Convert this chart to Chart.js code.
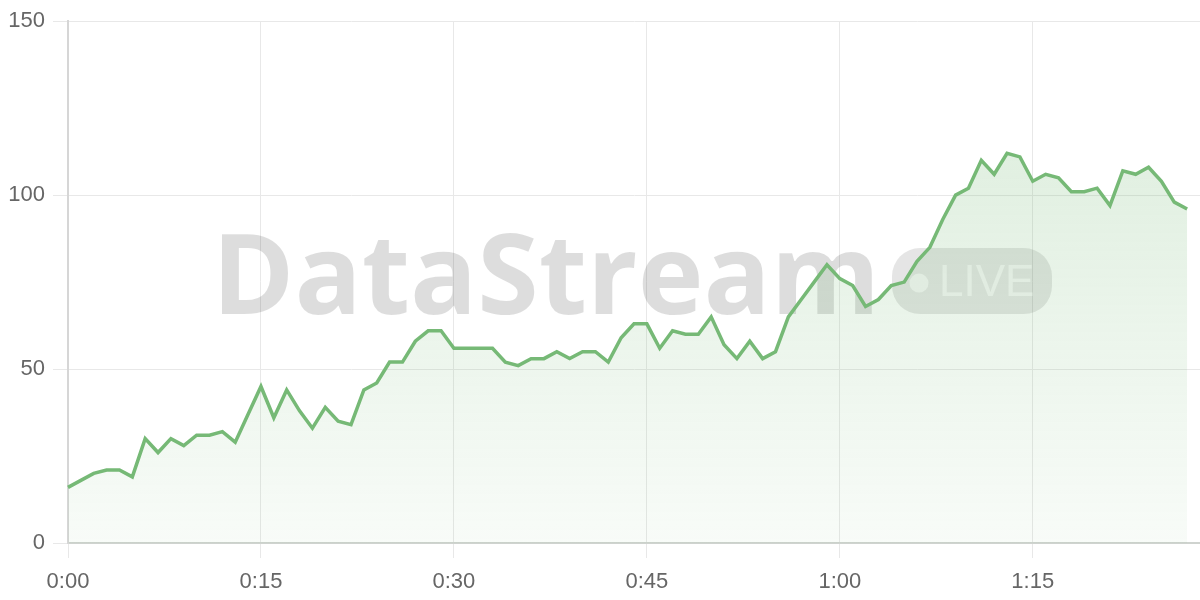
<!DOCTYPE html>
<html>
<head>
<meta charset="utf-8">
<script src="https://cdn.jsdelivr.net/npm/chart.js@4/dist/chart.umd.min.js"></script>
<style>
  html, body { margin: 0; padding: 0; background: #fff; }
  #wrap { width: 1200px; height: 600px; }
</style>
</head>
<body>
<div id="wrap"><canvas id="streamChart"></canvas></div>
<script>
// minutes since start (one sample per minute, one spare slot at the end)
const minutes = Array.from({ length: 89 }, (_, i) => i);
const viewers = [
    16, 18, 20, 21, 21, 19, 30, 26, 30, 28,
    31, 31, 32, 29, 37, 45, 36, 44, 38, 33,
    39, 35, 34, 44, 46, 52, 52, 58, 61, 61,
    56, 56, 56, 56, 52, 51, 53, 53, 55, 53,
    55, 55, 52, 59, 63, 63, 56, 61, 60, 60,
    65, 57, 53, 58, 53, 55, 65, 70, 75, 80,
    76, 74, 68, 70, 74, 75, 81, 85, 93, 100,
    102, 110, 106, 112, 111, 104, 106, 105, 101, 101,
    102, 97, 107, 106, 108, 104, 98, 96
];
const yTicks = [0, 50, 100, 150];

function fmt(m) {
    const h = Math.floor(m / 60);
    const mm = m % 60;
    return h + ':' + (mm < 10 ? '0' : '') + mm;
}

const labels = minutes.map(fmt);

// big "DataStream • LIVE" mark behind the line
const watermark = {
    id: 'watermark',
    beforeDatasetsDraw(chart) {
        const { ctx, chartArea } = chart;
        const cx = (chartArea.left + chartArea.right) / 2;
        const cy = (chartArea.top + chartArea.bottom) / 2;
        ctx.save();
        ctx.textBaseline = 'alphabetic';
        ctx.textAlign = 'left';

        // fit the word to its width
        ctx.font = 'bold 100px "Open Sans", sans-serif';
        const size = 100 * 668 / ctx.measureText('DataStream').width;
        ctx.font = 'bold ' + size.toFixed(1) + 'px "Open Sans", sans-serif';
        ctx.fillStyle = 'rgba(0, 0, 0, 0.135)';
        ctx.fillText('DataStream', cx - 422, cy + 32);

        // pill
        const px = cx + 258, py = cy - 34, pw = 160, ph = 66;
        ctx.fillStyle = 'rgba(0, 0, 0, 0.1)';
        ctx.beginPath();
        ctx.roundRect(px, py, pw, ph, 28);
        ctx.fill();

        ctx.fillStyle = 'rgba(255, 255, 255, 0.65)';
        ctx.beginPath();
        ctx.arc(px + 27, cy + 1, 9.5, 0, Math.PI * 2);
        ctx.fill();
        ctx.font = '44px "Liberation Sans", Arial, sans-serif';
        ctx.fillText('LIVE', px + 47, cy + 14);
        ctx.restore();
    }
};

const ctx = document.getElementById('streamChart').getContext('2d');

new Chart(ctx, {
    type: 'line',
    data: {
        labels: labels,
        datasets: [{
            data: viewers,
            borderColor: '#76b976',
            borderWidth: 3.5,
            pointRadius: 0,
            tension: 0,
            fill: true,
            backgroundColor: function(context) {
                const area = context.chart.chartArea;
                if (!area) return 'rgba(118, 185, 118, 0.15)';
                const g = context.chart.ctx.createLinearGradient(0, area.top, 0, area.bottom);
                g.addColorStop(0, 'rgba(118, 185, 118, 0.28)');
                g.addColorStop(1, 'rgba(118, 185, 118, 0.05)');
                return g;
            }
        }]
    },
    options: {
        responsive: true,
        maintainAspectRatio: false,
        animation: false,
        layout: { padding: { top: 19, right: 0, left: 0, bottom: 0 } },
        plugins: {
            legend: { display: false },
            tooltip: { enabled: false }
        },
        scales: {
            x: {
                ticks: {
                    autoSkip: false,
                    maxRotation: 0,
                    padding: 11,
                    color: '#666',
                    font: { family: '"Liberation Sans", Arial, sans-serif', size: 22 },
                    callback: function(value, index) {
                        return index % 15 === 0 && index < viewers.length ? labels[index] : null;
                    }
                },
                grid: { color: '#e8e8e8', lineWidth: 1, tickLength: 15 },
                border: { color: '#cfd3cf', width: 2 },
                afterFit: function(axis) { axis.height = 57; }
            },
            y: {
                min: 0,
                max: 150,
                afterBuildTicks: function(axis) {
                    axis.ticks = yTicks.map(v => ({ value: v }));
                },
                ticks: {
                    padding: 8,
                    color: '#666',
                    font: { family: '"Liberation Sans", Arial, sans-serif', size: 22 }
                },
                grid: { color: '#e8e8e8', lineWidth: 1, tickLength: 15 },
                border: { color: '#d6d6d6', width: 2 },
                afterFit: function(axis) { axis.width = 68; }
            }
        }
    },
    plugins: [watermark]
});
</script>
</body>
</html>
